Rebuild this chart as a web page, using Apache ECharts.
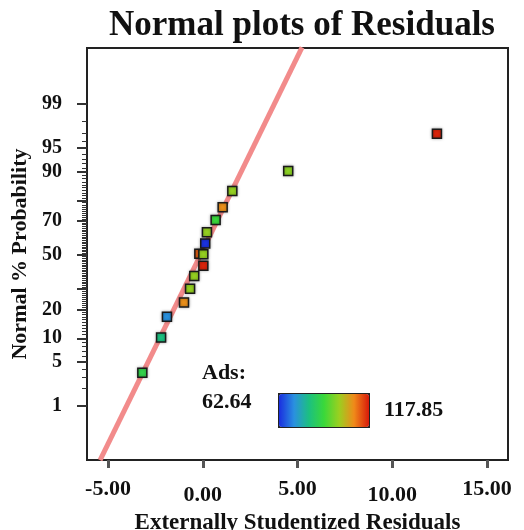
<!DOCTYPE html>
<html>
<head>
<meta charset="utf-8">
<script src="https://cdn.jsdelivr.net/npm/echarts@6/dist/echarts.min.js"></script>
<style>html,body{margin:0;padding:0;background:#fff}#main{width:524px;height:530px}</style>
</head>
<body>
<div id="main"></div>
<script>
// values
var residuals = [-3.19, -2.20, -1.89, -0.99, -0.67, -0.45, 0.03, -0.18, 0.03, 0.13, 0.22, 0.68, 1.05, 1.56, 4.51, 12.36];
var probability = [3.5, 10.2, 17.1, 23.3, 30.2, 37.3, 43.5, 50.8, 50.4, 57.1, 63.7, 70.5, 76.9, 83.8, 90.2, 96.9];
var ads = [88, 81, 72, 108, 99, 99, 117, 112, 99, 63, 99, 90, 108, 99, 98, 117];
var adsMin = 62.64, adsMax = 117.85;
var lineX = [-5.42, 5.24];
var lineP = [0.08, 99.93];
var xTicks = [-5, 0, 5, 10, 15];
var yTicks = [1, 5, 10, 20, 30, 50, 70, 80, 90, 95, 99];
var yLabels = [1, 5, 10, 20, 50, 70, 90, 95, 99];

var FONT = '"Liberation Serif", "Times New Roman", serif';

// inverse normal cdf (Acklam)
function probit(p) {
    var a = [-3.969683028665376e+01, 2.209460984245205e+02, -2.759285104469687e+02, 1.383577518672690e+02, -3.066479806614716e+01, 2.506628277459239e+00];
    var b = [-5.447609879822406e+01, 1.615858368580409e+02, -1.556989798598866e+02, 6.680131188771972e+01, -1.328068155288572e+01];
    var c = [-7.784894002430293e-03, -3.223964580411365e-01, -2.400758277161838e+00, -2.549732539343734e+00, 4.374664141464968e+00, 2.938163982698783e+00];
    var d = [7.784695709041462e-03, 3.224671290700398e-01, 2.445134137142996e+00, 3.754408661907416e+00];
    var pl = 0.02425, q, r;
    if (p < pl) {
        q = Math.sqrt(-2 * Math.log(p));
        return (((((c[0]*q+c[1])*q+c[2])*q+c[3])*q+c[4])*q+c[5]) / ((((d[0]*q+d[1])*q+d[2])*q+d[3])*q+1);
    }
    if (p > 1 - pl) {
        q = Math.sqrt(-2 * Math.log(1 - p));
        return -(((((c[0]*q+c[1])*q+c[2])*q+c[3])*q+c[4])*q+c[5]) / ((((d[0]*q+d[1])*q+d[2])*q+d[3])*q+1);
    }
    q = p - 0.5; r = q * q;
    return (((((a[0]*r+a[1])*r+a[2])*r+a[3])*r+a[4])*r+a[5])*q / (((((b[0]*r+b[1])*r+b[2])*r+b[3])*r+b[4])*r+1);
}
function z(pct) { return probit(pct / 100); }

var minorTicks = [];
for (var i = 1; i < 100; i++) {
    if (yTicks.indexOf(i) < 0) minorTicks.push(z(i));
}

var points = residuals.map(function (x, i) { return [x, z(probability[i]), ads[i]]; });
var line = lineX.map(function (x, i) { return [x, z(lineP[i])]; });

var myChart = echarts.init(document.getElementById('main'));

myChart.setOption({
    backgroundColor: '#fff',
    animation: false,
    title: {
        text: 'Normal plots of Residuals',
        left: 109,
        top: 8,
        padding: 0,
        textStyle: { fontFamily: FONT, fontSize: 35, fontWeight: 'bold', color: '#111' }
    },
    grid: {
        left: 87, top: 48, right: 16, bottom: 70,
        outerBoundsMode: 'none',
        containLabel: false,
        show: true, borderColor: '#222', borderWidth: 2
    },
    xAxis: {
        type: 'value',
        min: -6.11,
        max: 16.11,
        splitLine: { show: false },
        axisLine: { show: true, onZero: false, lineStyle: { color: '#222', width: 2 } },
        axisTick: { show: true, inside: false, customValues: xTicks, length: 8, lineStyle: { color: '#555', width: 3 } },
        axisLabel: {
            customValues: xTicks,
            margin: 18,
            formatter: function (v) {
                var k = xTicks.indexOf(v) % 2 ? 'lo' : 'hi';
                return '{' + k + '|' + v.toFixed(2) + '}';
            },
            rich: {
                hi: { fontFamily: FONT, fontSize: 22, fontWeight: 'bold', color: '#111' },
                lo: { fontFamily: FONT, fontSize: 22, fontWeight: 'bold', color: '#111', padding: [6, 0, 0, 0] }
            }
        },
        name: 'Externally Studentized Residuals',
        nameLocation: 'middle',
        nameGap: 52,
        nameTextStyle: { fontFamily: FONT, fontSize: 23, fontWeight: 'bold', color: '#111' }
    },
    yAxis: [{
        type: 'value',
        min: -3.154,
        max: 3.185,
        splitLine: { show: false },
        axisLine: { show: true, onZero: false, lineStyle: { color: '#222', width: 2 } },
        axisTick: { show: true, customValues: yTicks.map(z), length: 10, lineStyle: { color: '#333', width: 2 } },
        axisLabel: {
            customValues: yLabels.map(z),
            margin: 25,
            fontFamily: FONT, fontSize: 20, fontWeight: 'bold', color: '#111',
            formatter: function (v) {
                for (var i = 0; i < yLabels.length; i++) {
                    if (Math.abs(z(yLabels[i]) - v) < 1e-6) return String(yLabels[i]);
                }
                return '';
            }
        },
        name: 'Normal % Probability',
        nameLocation: 'middle',
        nameGap: 52,
        nameTextStyle: { fontFamily: FONT, fontSize: 22, fontWeight: 'bold', color: '#111' }
    }, {
        type: 'value',
        min: -3.154,
        max: 3.185,
        position: 'left',
        splitLine: { show: false },
        axisLine: { show: false, onZero: false },
        axisLabel: { show: false },
        axisTick: { show: true, customValues: minorTicks, length: 5, lineStyle: { color: '#333', width: 1 } }
    }],
    visualMap: {
        type: 'continuous',
        seriesIndex: 1,
        dimension: 2,
        min: adsMin,
        max: adsMax,
        orient: 'horizontal',
        left: 278,
        top: 393,
        itemWidth: 33,
        itemHeight: 90,
        padding: 0,
        text: null,
        calculable: false,
        hoverLink: false,
        borderColor: '#222',
        borderWidth: 2,
        inRange: { color: ['#1a2ee0', '#2a90e0', '#1cc080', '#3ad83a', '#9ad020', '#f08a1a', '#d81a0a'] }
    },
    graphic: [
        { type: 'text', left: 202, top: 362, style: { text: 'Ads:', font: 'bold 22px ' + FONT, fill: '#111' } },
        { type: 'text', left: 202, top: 391, style: { text: adsMin.toFixed(2), font: 'bold 22px ' + FONT, fill: '#111' } },
        { type: 'text', left: 384, top: 399, style: { text: adsMax.toFixed(2), font: 'bold 22px ' + FONT, fill: '#111' } }
    ],
    series: [{
        type: 'line',
        data: line,
        symbol: 'none',
        silent: true,
        z: 1,
        lineStyle: { color: '#f28b8b', width: 5 }
    }, {
        type: 'scatter',
        data: points,
        symbol: 'rect',
        symbolSize: 9,
        z: 3,
        itemStyle: {
            borderColor: '#1a1a1a',
            borderWidth: 1.5,
            opacity: 1,
            shadowBlur: 3,
            shadowColor: 'rgba(0,0,0,0.35)'
        }
    }]
});
</script>
</body>
</html>
